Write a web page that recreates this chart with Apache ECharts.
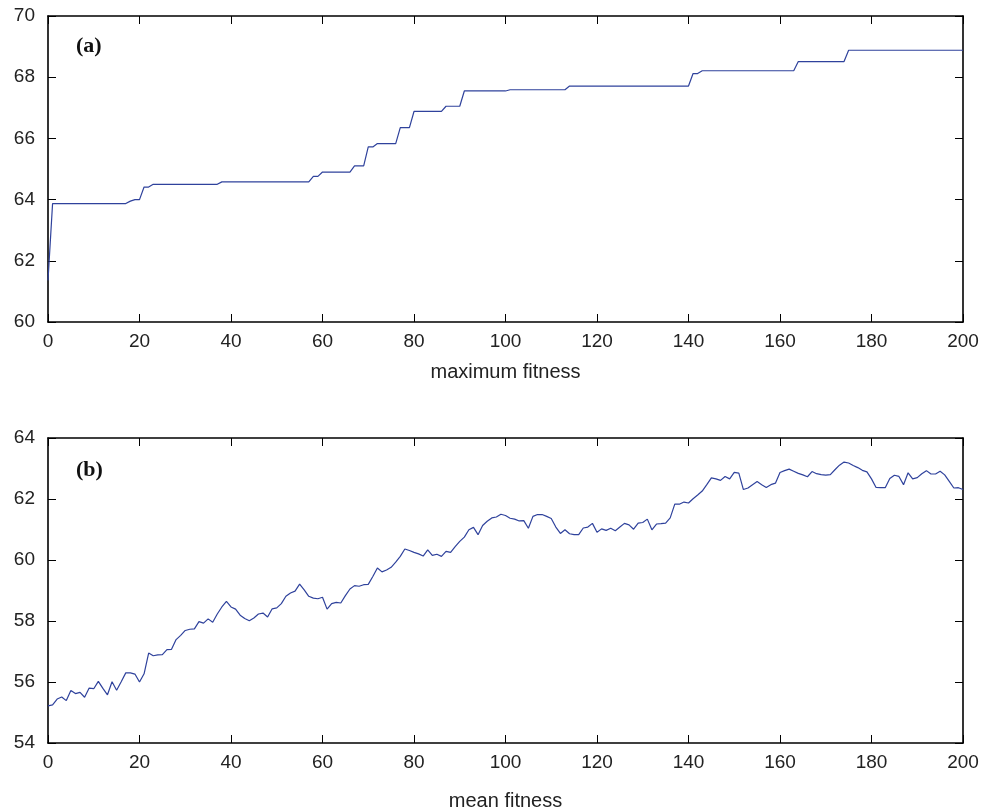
<!DOCTYPE html>
<html>
<head>
<meta charset="utf-8">
<script src="https://cdn.jsdelivr.net/npm/echarts@6/dist/echarts.min.js"></script>
<style>html,body{margin:0;padding:0;background:#fff}#c{width:995px;height:811px}</style>
</head>
<body>
<div id="c"></div>
<script>
// Generation values (x) 0..200
var generations = [];
for (var g = 0; g <= 200; g++) generations.push(g);

// (a) maximum fitness per generation
var maxFitness = [
61.36,63.87,63.87,63.87,63.87,63.87,63.87,63.87,63.87,63.87,
63.87,63.87,63.87,63.87,63.87,63.87,63.87,63.87,63.95,64.00,
64.00,64.41,64.41,64.50,64.50,64.50,64.50,64.50,64.50,64.50,
64.50,64.50,64.50,64.50,64.50,64.50,64.50,64.50,64.58,64.58,
64.58,64.58,64.58,64.58,64.58,64.58,64.58,64.58,64.58,64.58,
64.58,64.58,64.58,64.58,64.58,64.58,64.58,64.58,64.76,64.76,
64.90,64.90,64.90,64.90,64.90,64.90,64.90,65.10,65.10,65.10,
65.72,65.72,65.83,65.83,65.83,65.83,65.83,66.35,66.35,66.35,
66.88,66.88,66.88,66.88,66.88,66.88,66.88,67.05,67.05,67.05,
67.05,67.55,67.55,67.55,67.55,67.55,67.55,67.55,67.55,67.55,
67.55,67.59,67.59,67.59,67.59,67.59,67.59,67.59,67.59,67.59,
67.59,67.59,67.59,67.59,67.71,67.71,67.71,67.71,67.71,67.71,
67.71,67.71,67.71,67.71,67.71,67.71,67.71,67.71,67.71,67.71,
67.71,67.71,67.71,67.71,67.71,67.71,67.71,67.71,67.71,67.71,
67.71,68.12,68.12,68.21,68.21,68.21,68.21,68.21,68.21,68.21,
68.21,68.21,68.21,68.21,68.21,68.21,68.21,68.21,68.21,68.21,
68.21,68.21,68.21,68.21,68.51,68.51,68.51,68.51,68.51,68.51,
68.51,68.51,68.51,68.51,68.51,68.88,68.88,68.88,68.88,68.88,
68.88,68.88,68.88,68.88,68.88,68.88,68.88,68.88,68.88,68.88,
68.88,68.88,68.88,68.88,68.88,68.88,68.88,68.88,68.88,68.88,
68.88
];

// (b) mean fitness per generation
var meanFitness = [
55.22,55.25,55.44,55.51,55.39,55.72,55.62,55.66,55.50,55.80,
55.78,56.02,55.79,55.58,56.01,55.73,56.01,56.30,56.30,56.26,
56.00,56.27,56.95,56.86,56.89,56.90,57.06,57.07,57.39,57.53,
57.69,57.73,57.74,57.98,57.93,58.07,57.96,58.23,58.46,58.64,
58.46,58.39,58.19,58.08,58.01,58.10,58.23,58.26,58.13,58.40,
58.43,58.57,58.81,58.92,58.98,59.21,59.02,58.81,58.75,58.73,
58.78,58.39,58.57,58.61,58.59,58.83,59.05,59.16,59.14,59.19,
59.20,59.46,59.74,59.61,59.67,59.76,59.93,60.12,60.36,60.31,
60.25,60.20,60.13,60.33,60.15,60.19,60.12,60.28,60.25,60.44,
60.61,60.75,60.99,61.07,60.83,61.13,61.27,61.38,61.41,61.50,
61.46,61.37,61.34,61.28,61.29,61.04,61.43,61.49,61.49,61.43,
61.36,61.08,60.87,60.99,60.86,60.83,60.83,61.05,61.08,61.20,
60.91,61.02,60.97,61.04,60.96,61.08,61.20,61.15,61.01,61.21,
61.23,61.34,60.99,61.18,61.19,61.21,61.38,61.83,61.83,61.90,
61.87,62.01,62.13,62.26,62.47,62.69,62.66,62.61,62.74,62.66,
62.87,62.85,62.31,62.36,62.47,62.57,62.47,62.38,62.47,62.52,
62.87,62.93,62.98,62.91,62.84,62.79,62.73,62.90,62.83,62.80,
62.78,62.80,62.96,63.11,63.21,63.18,63.10,63.03,62.94,62.89,
62.66,62.38,62.37,62.37,62.67,62.78,62.74,62.47,62.86,62.66,
62.70,62.83,62.93,62.82,62.82,62.91,62.79,62.58,62.36,62.37,
62.31
];

var xTicks = [0,200,20];
var yTicksA = [60,70,2];
var yTicksB = [54,64,2];

function pairs(xs, ys){ return xs.map(function(x,i){ return [x, ys[i]]; }); }

var FONT = 'Liberation Sans';
var lineColor = '#2f429c';
var axisLineStyle = {color:'#000', width:1.6};
var tickStyle = {show:true, inside:true, length:8, lineStyle:{color:'#000', width:1}};

function xAxes(gridIndex, name, nameGap){
  return [{
    type:'value', gridIndex:gridIndex, min:xTicks[0], max:xTicks[1], interval:xTicks[2],
    position:'bottom',
    axisLine:{show:true, onZero:false, lineStyle:axisLineStyle},
    axisTick:tickStyle,
    axisLabel:{show:true, color:'#222', fontFamily:FONT, fontSize:19, margin:10},
    splitLine:{show:false},
    name:name, nameLocation:'middle', nameGap:nameGap,
    nameTextStyle:{color:'#222', fontFamily:FONT, fontSize:20}
  },{
    type:'value', gridIndex:gridIndex, min:xTicks[0], max:xTicks[1], interval:xTicks[2],
    position:'top',
    axisLine:{show:true, onZero:false, lineStyle:axisLineStyle},
    axisTick:tickStyle,
    axisLabel:{show:false}, splitLine:{show:false}
  }];
}
function yAxes(gridIndex, t){
  return [{
    type:'value', gridIndex:gridIndex, min:t[0], max:t[1], interval:t[2],
    position:'left',
    axisLine:{show:true, onZero:false, lineStyle:axisLineStyle},
    axisTick:tickStyle,
    axisLabel:{show:true, color:'#222', fontFamily:FONT, fontSize:19, margin:13},
    splitLine:{show:false}
  },{
    type:'value', gridIndex:gridIndex, min:t[0], max:t[1], interval:t[2],
    position:'right',
    axisLine:{show:true, onZero:false, lineStyle:axisLineStyle},
    axisTick:tickStyle,
    axisLabel:{show:false}, splitLine:{show:false}
  }];
}

var chart = echarts.init(document.getElementById('c'), null, {renderer:'canvas'});
chart.setOption({
  animation:false,
  backgroundColor:'#fff',
  grid:[
    {left:48, top:16, width:915, height:306, containLabel:false, outerBoundsMode:'none'},
    {left:48, top:438, width:915, height:305, containLabel:false, outerBoundsMode:'none'}
  ],
  xAxis: xAxes(0,'maximum fitness',40).concat(xAxes(1,'mean fitness',48)),
  yAxis: yAxes(0,yTicksA).concat(yAxes(1,yTicksB)),
  graphic:[
    {type:'text', left:76, top:35, style:{text:'(a)', font:'bold 22px "Liberation Serif"', fill:'#111'}},
    {type:'text', left:76, top:459, style:{text:'(b)', font:'bold 22px "Liberation Serif"', fill:'#111'}}
  ],
  series:[
    {type:'line', xAxisIndex:0, yAxisIndex:0, data:pairs(generations,maxFitness),
     showSymbol:false, lineStyle:{color:lineColor, width:1.2}, silent:true},
    {type:'line', xAxisIndex:2, yAxisIndex:2, data:pairs(generations,meanFitness),
     showSymbol:false, lineStyle:{color:lineColor, width:1.2}, silent:true}
  ]
});
</script>
</body>
</html>
